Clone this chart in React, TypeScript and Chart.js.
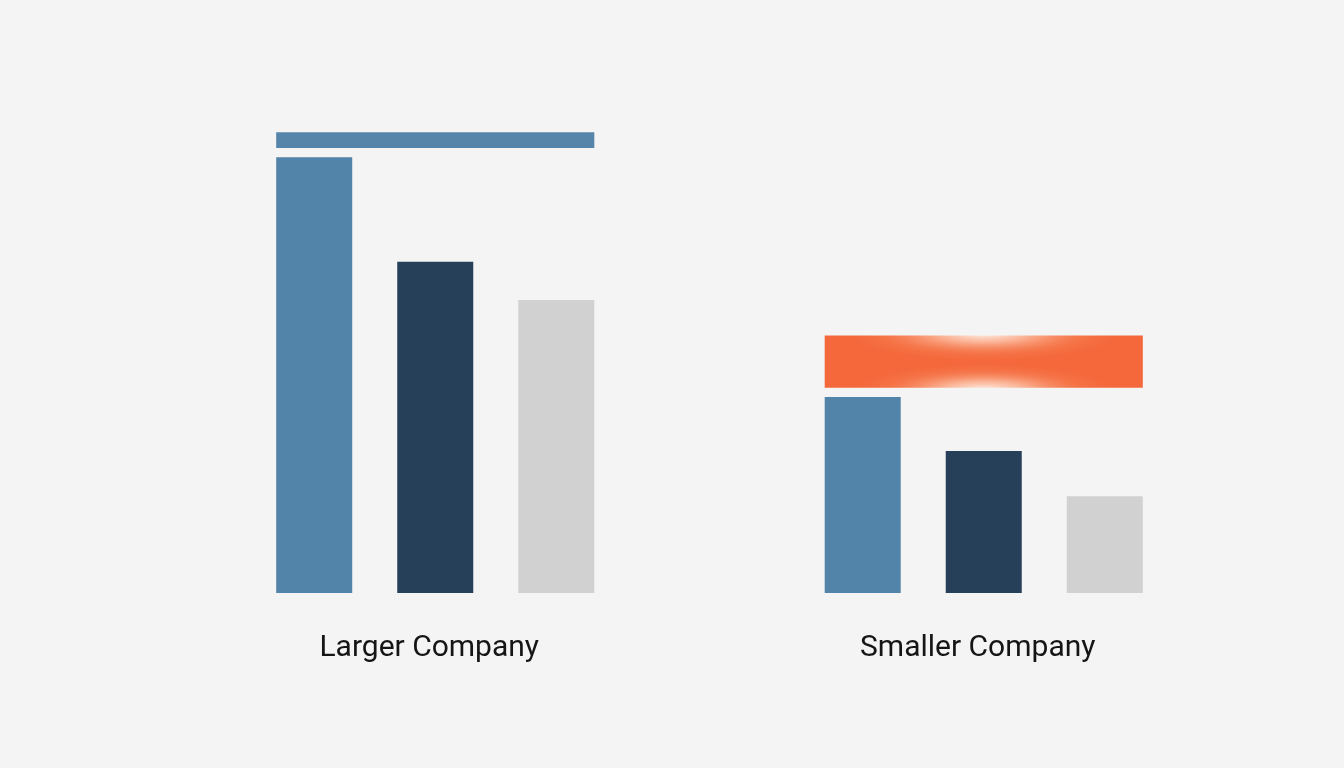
import React, { useEffect, useRef } from 'react';
import { Chart, registerables } from 'chart.js';

Chart.register(...registerables);

// Categories and values
const companies = ['Larger Company', 'Smaller Company'];
const seriesA = [100, 45];
const seriesB = [76, 32.6];
const seriesC = [67.2, 22.2];
// floating bar above each group: [low, high]
const topBand: [number, number][] = [
  [102.1, 105.7],
  [47.1, 59.1],
];

const BG = '#f4f4f4';
const BLUE = '#5283a9';
const NAVY = '#27405a';
const GRAY = '#d1d1d1';
const ORANGE = '#f4683b';

const App: React.FC = () => {
  const canvasRef = useRef<HTMLCanvasElement>(null);
  const chartRef = useRef<Chart | null>(null);

  useEffect(() => {
    const ctx = canvasRef.current?.getContext('2d');
    if (!ctx) return;
    if (chartRef.current) chartRef.current.destroy();

    // orange band: solid orange with a soft white glow on its top and bottom edge centre
    const bandColor = (c: any) => {
      if (c.dataIndex === 0) return '#5785aa';
      const chart = c.chart;
      const xs = chart.scales.x;
      const ys = chart.scales.y;
      if (!xs || !ys || !chart.chartArea) return ORANGE;
      const [lo, hi] = topBand[c.dataIndex];
      const cx = xs.getPixelForValue(c.dataIndex);
      const yTop = ys.getPixelForValue(hi);
      const yBot = ys.getPixelForValue(lo);
      const off = document.createElement('canvas');
      off.width = chart.width;
      off.height = chart.height;
      const o = off.getContext('2d');
      if (!o) return ORANGE;
      o.fillStyle = ORANGE;
      o.fillRect(0, 0, off.width, off.height);
      const glow = (y: number, r: number) => {
        o.save();
        o.translate(cx, y);
        o.scale(5, 1);
        const g = o.createRadialGradient(0, 0, 0, 0, 0, r);
        g.addColorStop(0, 'rgba(255,248,242,0.95)');
        g.addColorStop(0.3, 'rgba(255,228,210,0.6)');
        g.addColorStop(0.65, 'rgba(250,165,125,0.22)');
        g.addColorStop(1, 'rgba(244,104,59,0)');
        o.fillStyle = g;
        o.fillRect(-r, -r, 2 * r, 2 * r);
        o.restore();
      };
      glow(yTop - 2, 30);
      glow(yBot + 2, 28);
      return chart.ctx.createPattern(off, 'no-repeat') || ORANGE;
    };

    const groupBar = { categoryPercentage: 0.662, barPercentage: 0.628 };

    chartRef.current = new Chart(ctx, {
      type: 'bar',
      data: {
        labels: companies,
        datasets: [
          { label: 'A', data: seriesA, backgroundColor: BLUE, ...groupBar },
          { label: 'B', data: seriesB, backgroundColor: NAVY, ...groupBar },
          { label: 'C', data: seriesC, backgroundColor: GRAY, ...groupBar },
          {
            label: 'Band',
            data: topBand as any,
            grouped: false,
            backgroundColor: bandColor,
            categoryPercentage: 0.58,
            barPercentage: 1,
          },
        ],
      },
      options: {
        responsive: false,
        animation: false,
        devicePixelRatio: 1,
        layout: {
          padding: { left: 161, right: 86, top: 70, bottom: 73 },
        },
        plugins: {
          legend: { display: false },
          tooltip: { enabled: false },
        },
        scales: {
          x: {
            grid: { display: false },
            border: { display: false },
            ticks: {
              padding: 29,
              labelOffset: -6,
              color: '#151515',
              font: { family: 'Roboto', size: 30 },
            },
          },
          y: {
            display: false,
            min: 0,
            max: 120,
          },
        },
      },
    });

    return () => {
      if (chartRef.current) {
        chartRef.current.destroy();
        chartRef.current = null;
      }
    };
  }, []);

  return (
    <div
      style={{
        position: 'fixed',
        left: 0,
        top: 0,
        width: 1344,
        height: 768,
        background: BG,
      }}
    >
      <canvas ref={canvasRef} width={1344} height={768} style={{ display: 'block' }} />
    </div>
  );
};

export default App;
